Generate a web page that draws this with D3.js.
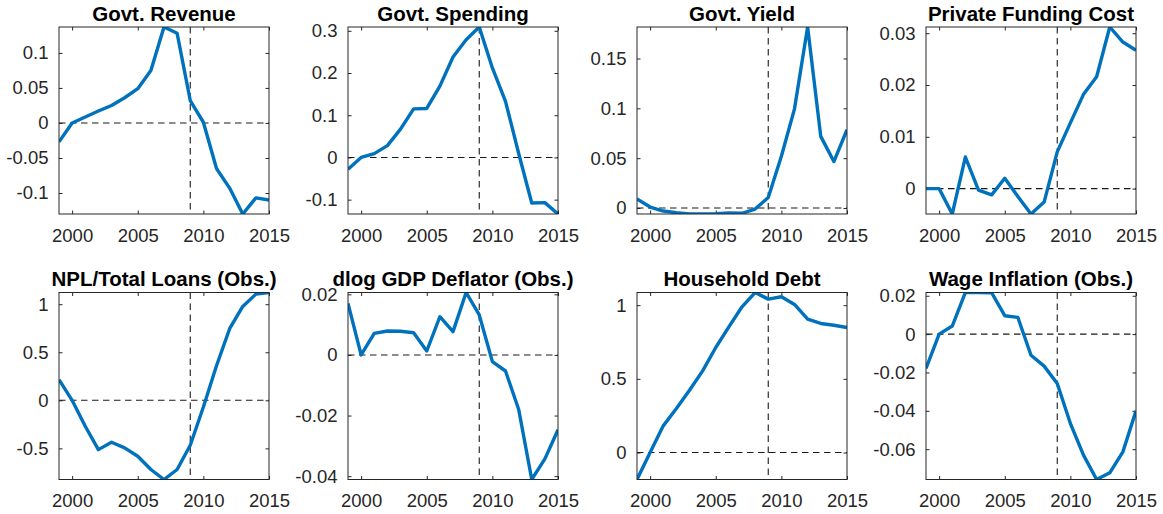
<!DOCTYPE html>
<html>
<head>
<meta charset="utf-8">
<script src="https://cdn.jsdelivr.net/npm/d3@7"></script>
<style>
  body { margin: 0; background: #fff; }
  svg { display: block; font-family: "Liberation Sans", Arial, Helvetica, sans-serif; }
</style>
</head>
<body>
<script>
// years on the x axis
var years = [1999, 2000, 2001, 2002, 2003, 2004, 2005, 2006, 2007, 2008, 2009, 2010, 2011, 2012, 2013, 2014, 2015];
var xTicks = [2000, 2005, 2010, 2015];
var crisisYear = 2009;

// series values
var govtRevenue = [-0.027, 0, 0.0086, 0.017, 0.025, 0.036, 0.049, 0.075, 0.137, 0.128, 0.032, 0.001, -0.065, -0.093, -0.130, -0.107, -0.110];
var govtSpending = [-0.028, 0, 0.009, 0.028, 0.067, 0.115, 0.116, 0.169, 0.238, 0.279, 0.309, 0.212, 0.133, 0.010, -0.108, -0.107, -0.134];
var govtYield = [0.009, 0.001, -0.003, -0.0047, -0.006, -0.006, -0.0057, -0.005, -0.0053, -0.001, 0.0106, 0.052, 0.0995, 0.1816, 0.0719, 0.0466, 0.0785];
var privateFunding = [0, 0, -0.0049, 0.0061, -0.0003, -0.0012, 0.002, -0.0015, -0.0049, -0.0026, 0.0071, 0.0127, 0.0182, 0.0216, 0.0312, 0.0283, 0.0267];
var nplLoans = [0.215, 0, -0.27, -0.513, -0.436, -0.495, -0.582, -0.72, -0.824, -0.72, -0.468, -0.07, 0.36, 0.745, 0.977, 1.105, 1.122];
var gdpDeflator = [0.017, 0, 0.0071, 0.0079, 0.0078, 0.0073, 0.0013, 0.0126, 0.0077, 0.0206, 0.0132, -0.0022, -0.0053, -0.0179, -0.0411, -0.0343, -0.0247];
var householdDebt = [-0.183, 0, 0.181, 0.299, 0.423, 0.554, 0.713, 0.853, 0.989, 1.086, 1.041, 1.057, 1.005, 0.905, 0.876, 0.864, 0.848];
var wageInflation = [-0.0179, 0, 0.0042, 0.0217, 0.0217, 0.0216, 0.0096, 0.0087, -0.011, -0.0167, -0.0257, -0.0466, -0.0631, -0.0758, -0.0723, -0.0614, -0.04];

// titles and y tick values per panel
var titles = ["Govt. Revenue", "Govt. Spending", "Govt. Yield", "Private Funding Cost",
              "NPL/Total Loans (Obs.)", "dlog GDP Deflator (Obs.)", "Household Debt", "Wage Inflation (Obs.)"];
var yTicks = [
  [-0.1, -0.05, 0, 0.05, 0.1],
  [-0.1, 0, 0.1, 0.2, 0.3],
  [0, 0.05, 0.1, 0.15],
  [0, 0.01, 0.02, 0.03],
  [-0.5, 0, 0.5, 1],
  [-0.04, -0.02, 0, 0.02],
  [0, 0.5, 1],
  [-0.06, -0.04, -0.02, 0, 0.02]
];
var series = [govtRevenue, govtSpending, govtYield, privateFunding, nplLoans, gdpDeflator, householdDebt, wageInflation];

// Layout
var W = 1163, H = 514;
var plotW = 210, plotH = 187;
var axisColor = "#262626";
var lineColor = "#0072BD";
var tick = 3.5;

var svg = d3.select("body").append("svg")
    .attr("width", W)
    .attr("height", H);

svg.append("rect").attr("width", W).attr("height", H).attr("fill", "#fff");

series.forEach(function(values, i) {
  var col = i % 4, row = Math.floor(i / 4);
  var left = 59 + col * 289;
  var top = 27 + row * 265.5;

  var g = svg.append("g")
      .attr("transform", "translate(" + left + "," + top + ")");

  var x = d3.scaleLinear()
      .domain([years[0], years[years.length - 1]])
      .range([0, plotW]);

  var y = d3.scaleLinear()
      .domain(d3.extent(values))
      .range([plotH, 0]);

  // clip for lines
  var clipId = "clip" + i;
  g.append("clipPath").attr("id", clipId)
    .append("rect").attr("width", plotW).attr("height", plotH);

  var fmt = function(d) { return String(d); };

  // bottom axis
  g.append("g")
     .attr("transform", "translate(0," + plotH + ")")
     .call(d3.axisBottom(x).tickValues(xTicks).tickFormat(fmt).tickSize(-tick).tickSizeOuter(0).tickPadding(14.5))
     .call(styleAxis);

  // top axis (ticks only)
  g.append("g")
     .call(d3.axisTop(x).tickValues(xTicks).tickFormat("").tickSize(-tick).tickSizeOuter(0))
     .call(styleAxis);

  // left axis
  g.append("g")
     .call(d3.axisLeft(y).tickValues(yTicks[i]).tickFormat(fmt).tickSize(-tick).tickSizeOuter(0).tickPadding(10.5))
     .call(styleAxis);

  // right axis (ticks only)
  g.append("g")
     .attr("transform", "translate(" + plotW + ",0)")
     .call(d3.axisRight(y).tickValues(yTicks[i]).tickFormat("").tickSize(-tick).tickSizeOuter(0))
     .call(styleAxis);

  // dashed reference lines
  var ref = g.append("g").attr("clip-path", "url(#" + clipId + ")");
  ref.append("line")
     .attr("x1", 0).attr("x2", plotW)
     .attr("y1", y(0)).attr("y2", y(0))
     .attr("stroke", "#1a1a1a").attr("stroke-width", 1.1)
     .attr("stroke-dasharray", "6.5,4.5");
  ref.append("line")
     .attr("x1", x(crisisYear)).attr("x2", x(crisisYear))
     .attr("y1", 0).attr("y2", plotH)
     .attr("stroke", "#1a1a1a").attr("stroke-width", 1.1)
     .attr("stroke-dasharray", "6.5,4.5");

  // data line
  var line = d3.line()
      .x(function(d, j) { return x(years[j]); })
      .y(function(d) { return y(d); });

  g.append("path")
     .datum(values)
     .attr("clip-path", "url(#" + clipId + ")")
     .attr("fill", "none")
     .attr("stroke", lineColor)
     .attr("stroke-width", 3.4)
     .attr("stroke-linejoin", "round")
     .attr("d", line);

  // box
  g.append("rect")
     .attr("width", plotW).attr("height", plotH)
     .attr("fill", "none")
     .attr("stroke", axisColor)
     .attr("stroke-width", 1);

  // title
  g.append("text")
     .attr("x", plotW / 2)
     .attr("y", -6.5)
     .attr("text-anchor", "middle")
     .attr("font-size", "20.5px")
     .attr("font-weight", "bold")
     .attr("fill", "#000")
     .text(titles[i]);
});

function styleAxis(sel) {
  sel.select(".domain").remove();
  sel.selectAll("line").attr("stroke", axisColor);
  sel.selectAll("text")
     .attr("fill", axisColor)
     .attr("font-size", "18.5px")
     .attr("font-family", "'Liberation Sans', Arial, Helvetica, sans-serif");
}
</script>
</body>
</html>
